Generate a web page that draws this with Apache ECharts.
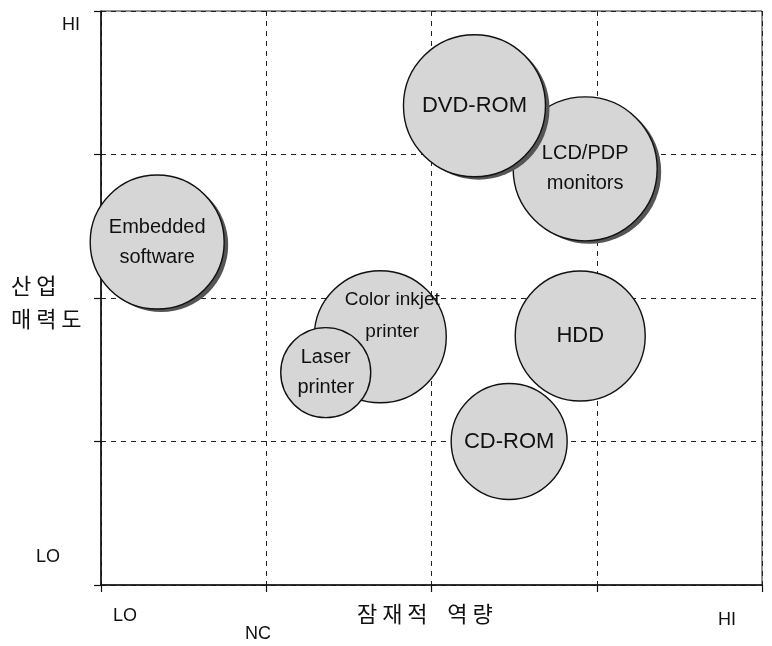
<!DOCTYPE html>
<html>
<head>
<meta charset="utf-8">
<script src="https://cdn.jsdelivr.net/npm/echarts@6/dist/echarts.min.js"></script>
<style>html,body{margin:0;padding:0;background:#fff}#c{width:772px;height:646px}</style>
</head>
<body>
<div id="c"></div>
<script>
// Data
const products = ['Embedded\nsoftware', 'LCD/PDP\nmonitors', 'DVD-ROM', 'HDD', 'CD-ROM', 'Color inkjet\nprinter', 'Laser\nprinter'];
const capability = [0.34, 2.93, 2.26, 2.90, 2.47, 1.69, 1.36];   // 잠재적 역량 (x)
const attractiveness = [2.39, 2.90, 3.34, 1.735, 1.00, 1.73, 1.48]; // 산업 매력도 (y)
const bubbleSize = [67, 72, 71, 65, 58, 66, 45];
const shadowed = [true, true, true, false, false, false, false];
const axisMin = 0, axisMax = 4, axisStep = 1;

const chart = echarts.init(document.getElementById('c'), null, {renderer: 'canvas'});
const fontLatin = '"Liberation Sans", Arial, sans-serif';
const fontKr = '"Noto Sans CJK KR", sans-serif';

const series = [];
products.forEach((p, i) => {
  const point = [capability[i], attractiveness[i], bubbleSize[i]];
  if (shadowed[i]) {
    series.push({
      type: 'scatter', name: p + ' shadow', silent: true,
      data: [point], symbolSize: v => v[2] * 2, symbolOffset: [4, 3],
      itemStyle: {color: '#555', opacity: 1}, label: {show: false},
      emphasis: {disabled: true}
    });
  }
  const label = {
    show: true, position: 'inside', formatter: () => p,
    color: '#111', fontSize: 20, lineHeight: 30, fontFamily: fontLatin
  };
  if (p.indexOf('Color') === 0) {
    Object.assign(label, {offset: [12, -21], fontFamily: '"Liberation Sans Narrow", ' + fontLatin, fontSize: 19, lineHeight: 32});
  }
  if (p === 'DVD-ROM' || p === 'HDD' || p === 'CD-ROM') label.fontSize = 22;
  series.push({
    type: 'scatter', name: p,
    data: [point], symbolSize: v => v[2] * 2,
    itemStyle: {color: '#d6d6d6', borderColor: '#111', borderWidth: 1.4, opacity: 1},
    label: label,
    emphasis: {disabled: true}
  });
});

const axisCommon = {
  type: 'value', min: axisMin, max: axisMax, interval: axisStep,
  axisLine: {show: true, onZero: false, lineStyle: {color: '#111', width: 1.5}},
  axisTick: {show: true, inside: false, length: 7, lineStyle: {color: '#111', width: 1.2}},
  axisLabel: {show: false},
  splitLine: {show: true, lineStyle: {color: '#222', width: 1, type: [5, 5]}}
};

chart.setOption({
  animation: false,
  backgroundColor: '#fff',
  grid: {left: 101, top: 11, right: 10, bottom: 61, show: true, borderColor: '#222', borderWidth: 1, backgroundColor: 'transparent'},
  xAxis: Object.assign({}, axisCommon),
  yAxis: Object.assign({}, axisCommon),
  series: series,
  graphic: [
    {type: 'text', left: 62, top: 16, style: {text: 'HI', font: '18px ' + fontLatin, fill: '#111'}},
    {type: 'text', left: 36, top: 548, style: {text: 'LO', font: '18px ' + fontLatin, fill: '#111'}},
    {type: 'text', left: 11, top: 269, style: {text: '산 업\n매 력 도', font: '22px ' + fontKr, lineHeight: 33, fill: '#111'}},
    {type: 'text', left: 113, top: 607, style: {text: 'LO', font: '18px ' + fontLatin, fill: '#111'}},
    {type: 'text', left: 245, top: 625, style: {text: 'NC', font: '18px ' + fontLatin, fill: '#111'}},
    {type: 'text', left: 357, top: 603, style: {text: '잠 재 적    역 량', font: '22px ' + fontKr, fill: '#111'}},
    {type: 'text', left: 718, top: 611, style: {text: 'HI', font: '18px ' + fontLatin, fill: '#111'}}
  ]
});
</script>
</body>
</html>
